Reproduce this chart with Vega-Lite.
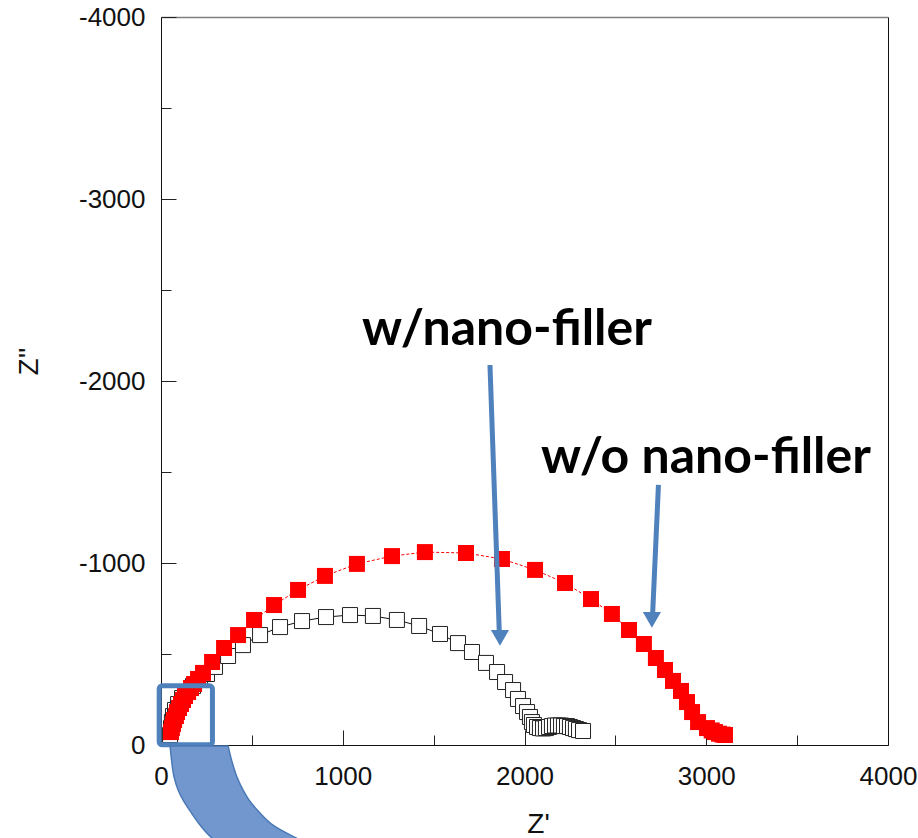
{
  "$schema": "https://vega.github.io/schema/vega-lite/v6.json",
  "autosize": {"type": "none"},
  "padding": {"left": 161, "top": 17, "right": 30, "bottom": 93},
  "width": 727,
  "height": 728,
  "background": "white",
  "config": {"view": {"stroke": null}, "font": "Liberation Sans"},
  "datasets": {
    "pts": [
      {"s": "w/o", "x": 55, "y": -71}, {"s": "w/o", "x": 60, "y": -93}, {"s": "w/o", "x": 66, "y": -115}, {"s": "w/o", "x": 72, "y": -137},
      {"s": "w/o", "x": 82, "y": -159}, {"s": "w/o", "x": 88, "y": -181}, {"s": "w/o", "x": 99, "y": -203}, {"s": "w/o", "x": 110, "y": -225},
      {"s": "w/o", "x": 121, "y": -247}, {"s": "w/o", "x": 132, "y": -269}, {"s": "w/o", "x": 149, "y": -291}, {"s": "w/o", "x": 165, "y": -313},
      {"s": "w/o", "x": 182, "y": -335}, {"s": "w/o", "x": 204, "y": -363}, {"s": "w/o", "x": 231, "y": -396}, {"s": "w/o", "x": 281, "y": -456},
      {"s": "w/o", "x": 347, "y": -533}, {"s": "w/o", "x": 424, "y": -604}, {"s": "w/o", "x": 512, "y": -687}, {"s": "w/o", "x": 622, "y": -769},
      {"s": "w/o", "x": 754, "y": -852}, {"s": "w/o", "x": 902, "y": -929}, {"s": "w/o", "x": 1078, "y": -995}, {"s": "w/o", "x": 1271, "y": -1038},
      {"s": "w/o", "x": 1452, "y": -1060}, {"s": "w/o", "x": 1678, "y": -1055}, {"s": "w/o", "x": 1876, "y": -1022}, {"s": "w/o", "x": 2058, "y": -962},
      {"s": "w/o", "x": 2223, "y": -890}, {"s": "w/o", "x": 2366, "y": -802}, {"s": "w/o", "x": 2481, "y": -720}, {"s": "w/o", "x": 2575, "y": -632},
      {"s": "w/o", "x": 2657, "y": -555}, {"s": "w/o", "x": 2723, "y": -478}, {"s": "w/o", "x": 2773, "y": -412}, {"s": "w/o", "x": 2817, "y": -352},
      {"s": "w/o", "x": 2861, "y": -297}, {"s": "w/o", "x": 2894, "y": -236}, {"s": "w/o", "x": 2922, "y": -181}, {"s": "w/o", "x": 2955, "y": -126},
      {"s": "w/o", "x": 3004, "y": -93}, {"s": "w/o", "x": 3030, "y": -80}, {"s": "w/o", "x": 3048, "y": -71}, {"s": "w/o", "x": 3070, "y": -62},
      {"s": "w/o", "x": 3090, "y": -57}, {"s": "w/o", "x": 3103, "y": -55},
      {"s": "w", "x": 50, "y": -55}, {"s": "w", "x": 55, "y": -93}, {"s": "w", "x": 60, "y": -126}, {"s": "w", "x": 66, "y": -159},
      {"s": "w", "x": 77, "y": -192}, {"s": "w", "x": 94, "y": -225}, {"s": "w", "x": 116, "y": -258}, {"s": "w", "x": 143, "y": -291},
      {"s": "w", "x": 176, "y": -324}, {"s": "w", "x": 215, "y": -357}, {"s": "w", "x": 253, "y": -390}, {"s": "w", "x": 297, "y": -429},
      {"s": "w", "x": 369, "y": -489}, {"s": "w", "x": 451, "y": -549}, {"s": "w", "x": 545, "y": -604}, {"s": "w", "x": 655, "y": -648},
      {"s": "w", "x": 776, "y": -681}, {"s": "w", "x": 908, "y": -703}, {"s": "w", "x": 1040, "y": -714}, {"s": "w", "x": 1166, "y": -709},
      {"s": "w", "x": 1298, "y": -687}, {"s": "w", "x": 1420, "y": -654}, {"s": "w", "x": 1535, "y": -610}, {"s": "w", "x": 1634, "y": -560},
      {"s": "w", "x": 1711, "y": -511}, {"s": "w", "x": 1788, "y": -451}, {"s": "w", "x": 1849, "y": -401}, {"s": "w", "x": 1893, "y": -346},
      {"s": "w", "x": 1937, "y": -302}, {"s": "w", "x": 1964, "y": -253}, {"s": "w", "x": 1992, "y": -214}, {"s": "w", "x": 2014, "y": -181},
      {"s": "w", "x": 2030, "y": -154}, {"s": "w", "x": 2041, "y": -126}, {"s": "w", "x": 2052, "y": -110}, {"s": "w", "x": 2069, "y": -99},
      {"s": "w", "x": 2085, "y": -93}, {"s": "w", "x": 2102, "y": -91}, {"s": "w", "x": 2118, "y": -93}, {"s": "w", "x": 2135, "y": -99},
      {"s": "w", "x": 2151, "y": -104}, {"s": "w", "x": 2168, "y": -107}, {"s": "w", "x": 2184, "y": -107}, {"s": "w", "x": 2201, "y": -107},
      {"s": "w", "x": 2217, "y": -104}, {"s": "w", "x": 2234, "y": -104}, {"s": "w", "x": 2250, "y": -99}, {"s": "w", "x": 2267, "y": -93},
      {"s": "w", "x": 2283, "y": -88}, {"s": "w", "x": 2300, "y": -82}, {"s": "w", "x": 2322, "y": -77}
    ],
    "labels": [
      {"t": "w/nano-filler", "x": 1106, "y": -2198},
      {"t": "w/o nano-filler", "x": 2091, "y": -1495}
    ],
    "arrows": [
      {"x": 1810, "y": -2088, "x2": 1862, "y2": -600},
      {"x": 2737, "y": -1429, "x2": 2704, "y2": -698}
    ],
    "heads": [
      {"x": 1865, "y": -588},
      {"x": 2701, "y": -687}
    ],
    "box": [{"x": -10, "x2": 283, "y": -325, "y2": -1}],
    "band": [
      {"y": 5, "xl": 50, "xr": 369},
      {"y": 82, "xl": 58, "xr": 388},
      {"y": 176, "xl": 72, "xr": 418},
      {"y": 247, "xl": 94, "xr": 451},
      {"y": 302, "xl": 121, "xr": 484},
      {"y": 374, "xl": 168, "xr": 545},
      {"y": 440, "xl": 215, "xr": 616},
      {"y": 511, "xl": 281, "xr": 743},
      {"y": 540, "xl": 320, "xr": 800}
    ]
  },
  "resolve": {"axis": {"x": "independent", "y": "independent"}},
  "layer": [
    {
      "data": {"name": "pts"},
      "transform": [{"filter": "datum.s === 'w'"}],
      "mark": {"type": "line", "color": "#111111", "strokeWidth": 1},
      "encoding": {
        "x": {"field": "x", "type": "quantitative", "scale": {"domain": [0, 4000], "nice": false, "zero": false},
          "axis": {"orient": "bottom", "values": [0, 500, 1000, 1500, 2000, 2500, 3000, 3500, 4000],
            "labelExpr": "datum.value % 1000 === 0 ? '' + datum.value : ''",
            "tickSize": {"condition": {"test": "datum.value % 1000 === 0", "value": -15}, "value": -10},
            "tickColor": "#222222", "domainColor": "#111111", "grid": false,
            "labelFontSize": 26, "labelColor": "#111111", "labelPadding": 33, "labelFlush": false, "labelOverlap": false,
            "title": "Z'", "titleFontSize": 28, "titleFontWeight": "normal", "titleColor": "#111111",
            "titleX": 377, "titleY": 87, "titleBaseline": "alphabetic", "titleAnchor": null}},
        "y": {"field": "y", "type": "quantitative", "scale": {"domain": [-4000, 0], "reverse": true, "nice": false, "zero": false},
          "axis": {"orient": "left", "values": [0, -500, -1000, -1500, -2000, -2500, -3000, -3500, -4000],
            "labelExpr": "datum.value % 1000 === 0 ? '' + datum.value : ''",
            "tickSize": {"condition": {"test": "datum.value % 1000 === 0", "value": -15}, "value": -10},
            "tickColor": "#222222", "domainColor": "#111111", "grid": false,
            "labelFontSize": 26, "labelColor": "#111111", "labelPadding": 31, "labelOverlap": false, "labelFlush": false,
            "title": "Z''", "titleFontSize": 28, "titleFontWeight": "normal", "titleColor": "#111111",
            "titleAngle": -90, "titleX": -124, "titleY": 344, "titleBaseline": "alphabetic", "titleAlign": "center"}}
      }
    },
    {
      "data": {"name": "pts"},
      "transform": [{"filter": "datum.s === 'w'"}],
      "mark": {"type": "point", "shape": "square", "size": 225, "filled": true, "fill": "white", "stroke": "#222222", "strokeWidth": 1, "opacity": 1},
      "encoding": {
        "x": {"field": "x", "type": "quantitative", "axis": {"orient": "top", "labels": false, "ticks": false, "grid": false, "domainColor": "#808080", "domainWidth": 1.5, "title": null}},
        "y": {"field": "y", "type": "quantitative", "axis": {"orient": "right", "labels": false, "ticks": false, "grid": false, "domainColor": "#111111", "title": null}}
      }
    },
    {
      "data": {"name": "pts"},
      "transform": [{"filter": "datum.s === 'w/o'"}],
      "mark": {"type": "line", "color": "#ff0000", "strokeWidth": 1, "strokeDash": [3, 2]},
      "encoding": {
        "x": {"field": "x", "type": "quantitative", "axis": null},
        "y": {"field": "y", "type": "quantitative", "axis": null}
      }
    },
    {
      "data": {"name": "pts"},
      "transform": [{"filter": "datum.s === 'w/o'"}],
      "mark": {"type": "point", "shape": "square", "size": 256, "filled": true, "color": "#ff0000", "opacity": 1},
      "encoding": {
        "x": {"field": "x", "type": "quantitative", "axis": null},
        "y": {"field": "y", "type": "quantitative", "axis": null}
      }
    },
    {
      "data": {"name": "box"},
      "mark": {"type": "rect", "fill": "white", "fillOpacity": 0, "stroke": "#4f81bd", "strokeWidth": 5, "cornerRadius": 3},
      "encoding": {
        "x": {"field": "x", "type": "quantitative", "axis": null},
        "x2": {"field": "x2"},
        "y": {"field": "y", "type": "quantitative", "axis": null},
        "y2": {"field": "y2"}
      }
    },
    {
      "data": {"name": "band"},
      "mark": {"type": "area", "orient": "horizontal", "fill": "#7297cf", "stroke": "#4a7ab5", "strokeWidth": 1.5, "clip": false, "interpolate": "monotone"},
      "encoding": {
        "y": {"field": "y", "type": "quantitative", "axis": null},
        "x": {"field": "xl", "type": "quantitative", "axis": null},
        "x2": {"field": "xr"}
      }
    },
    {
      "data": {"name": "arrows"},
      "mark": {"type": "rule", "color": "#4f81bd", "strokeWidth": 5},
      "encoding": {
        "x": {"field": "x", "type": "quantitative", "axis": null},
        "y": {"field": "y", "type": "quantitative", "axis": null},
        "x2": {"field": "x2"},
        "y2": {"field": "y2"}
      }
    },
    {
      "data": {"name": "heads"},
      "mark": {"type": "point", "shape": "triangle-down", "size": 330, "filled": true, "color": "#4f81bd", "opacity": 1},
      "encoding": {
        "x": {"field": "x", "type": "quantitative", "axis": null},
        "y": {"field": "y", "type": "quantitative", "axis": null}
      }
    },
    {
      "data": {"name": "labels"},
      "mark": {"type": "text", "font": "Lato", "fontWeight": "bold", "fontSize": 50, "align": "left", "baseline": "alphabetic", "color": "#000000"},
      "encoding": {
        "x": {"field": "x", "type": "quantitative", "axis": null},
        "y": {"field": "y", "type": "quantitative", "axis": null},
        "text": {"field": "t"}
      }
    }
  ]
}
